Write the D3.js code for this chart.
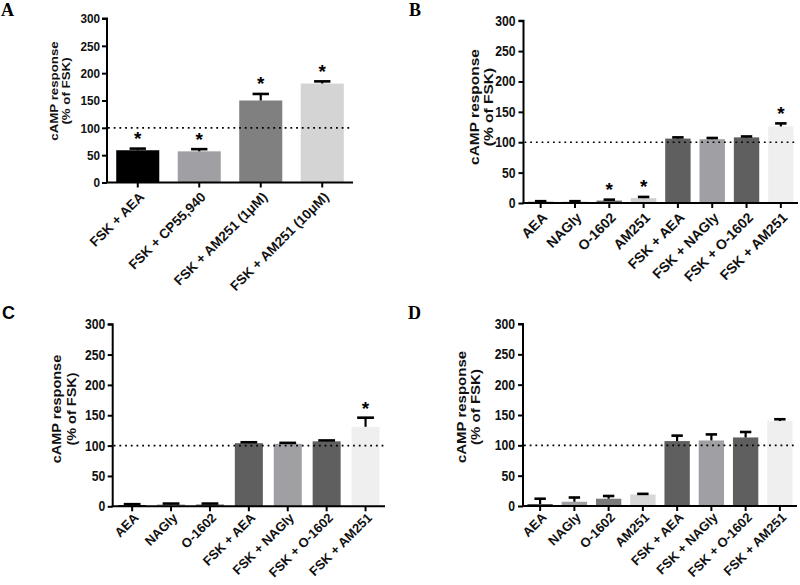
<!DOCTYPE html>
<html><head><meta charset="utf-8">
<script src="https://cdn.jsdelivr.net/npm/d3@7/dist/d3.min.js"></script>
<style>body{margin:0;background:#fff}svg{display:block}</style>
</head><body>
<svg id="chart" width="800" height="585"></svg>
<script>
// ---- data ----
const yTicks = [0, 50, 100, 150, 200, 250, 300];
const refLine = 100;

const catsA = ["FSK + AEA", "FSK + CP55,940", "FSK + AM251 (1μM)", "FSK + AM251 (10μM)"];
const valsA = [59, 57, 150, 181];
const errA  = [3, 4, 12, 4];
const sigA  = [true, true, true, true];

const catsB = ["AEA", "NAGly", "O-1602", "AM251", "FSK + AEA", "FSK + NAGly", "FSK + O-1602", "FSK + AM251"];
const valsB = [2, 2, 4, 8, 106, 105, 108, 126];
const errB  = [1, 1, 1.5, 2, 2, 2, 1.5, 5];
const sigB  = [false, false, true, true, false, false, false, true];

const catsC = ["AEA", "NAGly", "O-1602", "FSK + AEA", "FSK + NAGly", "FSK + O-1602", "FSK + AM251"];
const valsC = [2, 3, 3, 104, 103, 107, 131];
const errC  = [1.5, 1.5, 1.5, 1.5, 1.5, 1.5, 15];
const sigC  = [false, false, false, false, false, false, true];

const catsD = ["AEA", "NAGly", "O-1602", "AM251", "FSK + AEA", "FSK + NAGly", "FSK + O-1602", "FSK + AM251"];
const valsD = [3, 7, 12, 19, 107, 108, 113, 140];
const errD  = [9, 7, 4.5, 1, 9, 10, 9, 3];
const sigD  = [false, false, false, false, false, false, false, false];

// ---- styles ----
const colorsA = ["#000000", "#a0a0a4", "#808080", "#d4d4d4"];
const colorsB = ["#2a2a2a", "#a0a0a4", "#707070", "#d0d0d0", "#5f5f5f", "#a0a0a4", "#5f5f5f", "#efefef"];
const colorsC = ["#2a2a2a", "#a0a0a4", "#707070", "#5f5f5f", "#a0a0a4", "#5f5f5f", "#efefef"];
const colorsD = ["#333333", "#a0a0a4", "#7a7a7a", "#d8d8d8", "#5f5f5f", "#a0a0a4", "#5f5f5f", "#efefef"];

const svg = d3.select("#chart");
const SANS = "'Liberation Sans', Arial, sans-serif";
const SERIF = "'Liberation Serif', 'DejaVu Serif', serif";
const SX = 0.87; // horizontal squeeze of the original figure's lettering

function panel(o) {
  const g = svg.append("g");
  const data = o.cats.map((c, i) => ({c, v: o.vals[i], e: o.errs[i], s: o.sigs[i], col: o.colors[i]}));
  const x = d3.scaleBand().domain(o.cats).range([o.x0, o.x1]).paddingInner(o.pad).paddingOuter(o.pad / 2);
  const y = d3.scaleLinear().domain([0, 300]).range([o.y0, o.yTop]);
  const cx = d => x(d.c) + x.bandwidth() / 2;

  // bars
  g.selectAll("rect.bar").data(data).enter().append("rect")
    .attr("x", d => x(d.c)).attr("width", x.bandwidth())
    .attr("y", d => y(d.v)).attr("height", d => y(0) - y(d.v))
    .attr("fill", d => d.col);

  // error bars (upper only)
  const cw = x.bandwidth() * o.capFrac;
  const eg = g.selectAll("g.err").data(data).enter().append("g");
  eg.append("line")
    .attr("x1", cx).attr("x2", cx)
    .attr("y1", d => y(d.v)).attr("y2", d => y(d.v + d.e))
    .attr("stroke", "#000").attr("stroke-width", 2.2);
  eg.append("line")
    .attr("x1", d => cx(d) - cw / 2).attr("x2", d => cx(d) + cw / 2)
    .attr("y1", d => y(d.v + d.e)).attr("y2", d => y(d.v + d.e))
    .attr("stroke", "#000").attr("stroke-width", 2.6);

  // asterisks
  g.selectAll("text.sig").data(data.filter(d => d.s)).enter().append("text")
    .attr("x", cx)
    .attr("y", d => y(d.v + d.e) - o.starGap)
    .attr("text-anchor", "middle")
    .attr("font-family", SANS).attr("font-weight", "bold").attr("font-size", o.starSize)
    .text("*");

  // reference line
  g.append("line").attr("x1", o.x0 + 1).attr("x2", o.x1).attr("y1", y(refLine)).attr("y2", y(refLine))
    .attr("stroke", "#000").attr("stroke-width", 1.6).attr("stroke-dasharray", "1.8,3.9");

  // y axis
  const ya = g.append("g").attr("transform", `translate(${o.x0},0)`)
    .call(d3.axisLeft(y).tickValues(yTicks).tickSize(5).tickPadding(2));
  ya.select(".domain").attr("stroke-width", 2).attr("d", `M-5,${o.yTop}H0V${o.y0}`);
  ya.selectAll(".tick line").attr("stroke-width", 2);
  ya.selectAll(".tick text").attr("font-family", SANS).attr("font-weight", "bold")
    .attr("font-size", o.tickSize).attr("fill", "#111")
    .attr("x", -o.tickGap / SX).attr("transform", `scale(${SX},1)`);

  // x axis
  const xa = g.append("g").attr("transform", `translate(0,${o.y0})`)
    .call(d3.axisBottom(x).tickSize(5).tickSizeOuter(0).tickPadding(3));
  xa.select(".domain").attr("stroke-width", 2).attr("d", `M${o.x0 - 1},0H${o.x1}`);
  xa.selectAll(".tick line").attr("stroke-width", 2);
  xa.selectAll(".tick text").attr("font-family", SANS).attr("font-weight", "bold")
    .attr("font-size", o.xSize).attr("fill", "#111")
    .attr("text-anchor", "end").attr("dy", "0.35em")
    .attr("transform", `translate(${o.xdx},${o.xdy}) rotate(-45)`).attr("y", 0).attr("x", 0);

  // y title
  const tt = g.append("text").attr("font-family", SANS).attr("font-weight", "bold")
    .attr("font-size", o.titleSize).attr("text-anchor", "middle").attr("fill", "#111")
    .attr("transform", `translate(${o.titleX},${o.titleY}) scale(${SX},1) rotate(-90)`);
  tt.append("tspan").attr("x", 0).attr("dy", 0).text("cAMP response");
  tt.append("tspan").attr("x", 0).attr("dy", o.titleGap / SX).text("(% of FSK)");

  // panel letter
  svg.append("text").attr("x", o.lx).attr("y", o.ly).attr("font-family", o.lfont)
    .attr("font-weight", "bold").attr("font-size", o.lsize).text(o.letter);
}

panel({cats: catsA, vals: valsA, errs: errA, sigs: sigA, colors: colorsA,
  x0: 107, x1: 353, y0: 182.5, yTop: 18.5, pad: 0.3, capFrac: 0.38,
  tickSize: 13.5, tickGap: 7, xSize: 13.5, xdx: 4, xdy: 12, starSize: 19, starGap: 3.5,
  titleSize: 13.3, titleX: 58, titleY: 91, titleGap: 12,
  letter: "A", lx: 1, ly: 16, lfont: SERIF, lsize: 18});

panel({cats: catsB, vals: valsB, errs: errB, sigs: sigB, colors: colorsB,
  x0: 523.5, x1: 798, y0: 203, yTop: 20.7, pad: 0.26, capFrac: 0.45,
  tickSize: 14, tickGap: 8, xSize: 14, xdx: 4, xdy: 12, starSize: 19, starGap: 3.5,
  titleSize: 15.5, titleX: 479, titleY: 107, titleGap: 14,
  letter: "B", lx: 409, ly: 16, lfont: SERIF, lsize: 18});

panel({cats: catsC, vals: valsC, errs: errC, sigs: sigC, colors: colorsC,
  x0: 112.7, x1: 385, y0: 506.3, yTop: 324.2, pad: 0.28, capFrac: 0.6,
  tickSize: 14, tickGap: 7.5, xSize: 13, xdx: 4, xdy: 9, starSize: 19, starGap: 3,
  titleSize: 14.5, titleX: 61, titleY: 409, titleGap: 15.5,
  letter: "C", lx: 2, ly: 319, lfont: SANS, lsize: 18});

panel({cats: catsD, vals: valsD, errs: errD, sigs: sigD, colors: colorsD,
  x0: 523, x1: 797, y0: 506, yTop: 324, pad: 0.26, capFrac: 0.45,
  tickSize: 14, tickGap: 8, xSize: 13, xdx: 4, xdy: 9, starSize: 19, starGap: 3.5,
  titleSize: 15, titleX: 466, titleY: 407, titleGap: 14,
  letter: "D", lx: 408, ly: 319, lfont: SERIF, lsize: 18});
</script>
</body></html>
